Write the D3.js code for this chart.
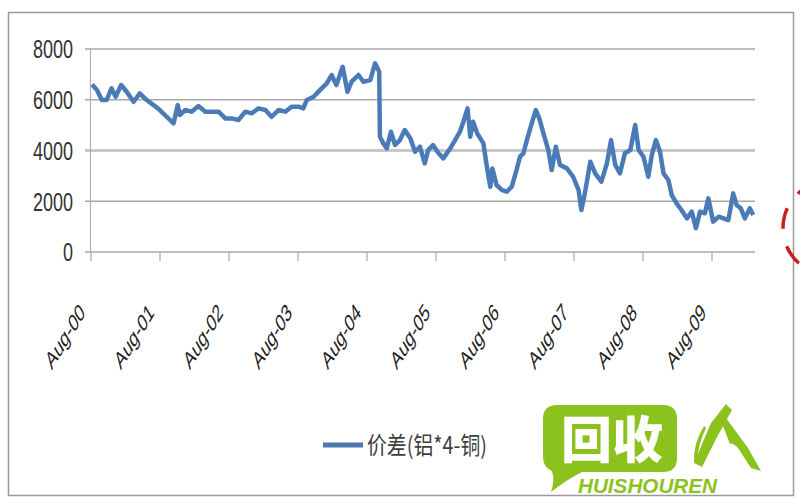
<!DOCTYPE html>
<html>
<head>
<meta charset="utf-8">
<script src="https://cdn.jsdelivr.net/npm/d3@7/dist/d3.min.js"></script>
<style>
  html, body { margin: 0; padding: 0; background: #fff; }
  svg { display: block; }
</style>
</head>
<body>
<svg id="chart" width="800" height="500"></svg>
<script>
// ---- data ----
const seriesName = "价差(铝*4-铜)";
const tickLabels = ["Aug-00","Aug-01","Aug-02","Aug-03","Aug-04","Aug-05","Aug-06","Aug-07","Aug-08","Aug-09"];
const tickYears = [2000.583,2001.583,2002.583,2003.583,2004.583,2005.583,2006.583,2007.583,2008.583,2009.583];
const yTicks = [0, 2000, 4000, 6000, 8000];

const times = [
  2000.60,2000.67,2000.74,2000.81,2000.88,2000.94,2001.02,2001.10,2001.20,2001.29,
  2001.39,2001.49,2001.58,2001.68,2001.78,2001.84,2001.87,2001.95,2002.04,2002.14,
  2002.24,2002.33,2002.43,2002.53,2002.62,2002.72,2002.82,2002.91,2003.01,2003.11,
  2003.20,2003.30,2003.40,2003.49,2003.59,2003.66,2003.71,2003.81,2003.90,2004.00,
  2004.07,2004.14,2004.23,2004.30,2004.36,2004.46,2004.53,2004.63,2004.70,2004.76,
  2004.77,2004.82,2004.87,2004.93,2004.99,2005.06,2005.13,2005.21,2005.28,
  2005.35,2005.42,2005.47,2005.54,2005.62,2005.69,2005.79,2005.86,2005.93,2005.98,
  2006.04,2006.08,2006.12,2006.18,2006.27,2006.32,2006.37,2006.40,2006.46,2006.54,
  2006.61,2006.68,2006.75,2006.80,2006.85,2006.90,2006.97,2007.03,2007.08,2007.14,
  2007.21,2007.26,2007.32,2007.38,2007.48,2007.57,2007.65,2007.69,2007.74,2007.82,
  2007.89,2007.98,2008.06,2008.12,2008.18,2008.25,2008.32,2008.40,2008.47,2008.52,
  2008.59,2008.66,2008.71,2008.77,2008.83,2008.88,2008.95,2009.00,2009.07,2009.14,
  2009.22,2009.29,2009.35,2009.41,2009.48,2009.53,2009.60,2009.68,2009.75,2009.82,
  2009.89,2009.94,2010.00,2010.06,2010.13,2010.18
];
const spread = [
  6600,6380,5990,5990,6450,6120,6580,6315,5920,6250,
  5990,5790,5595,5330,5070,5790,5400,5595,5530,5750,
  5530,5530,5530,5265,5265,5200,5530,5465,5660,5595,
  5330,5595,5530,5725,5725,5660,5990,6120,6380,6645,
  6975,6580,7300,6315,6710,6975,6710,6775,7435,7105,
  4545,4280,4085,4740,4215,4410,4805,4480,3950,
  4150,3495,4020,4215,3890,3690,4085,4410,4740,5135,
  5660,4545,5135,4675,4280,3360,2570,3295,2640,2440,
  2375,2570,3230,3755,3890,4410,5070,5595,5265,4675,
  4020,3230,4150,3430,3295,2965,2440,1655,2310,3560,
  3100,2770,3495,4410,3430,3100,3890,4020,5005,4020,
  3755,2965,3820,4410,3950,3100,2835,2245,1915,1655,
  1325,1590,935,1590,1525,2115,1195,1390,1325,1260,
  2310,1850,1720,1325,1720,1460
];

// ---- drawing ----
const svg = d3.select("#chart");
svg.append("rect").attr("width", 800).attr("height", 500).attr("fill", "#fff");

const x = d3.scaleLinear().domain([tickYears[0], tickYears[tickYears.length - 1]]).range([91, 712]);
const y = d3.scaleLinear().domain([0, 8000]).range([252, 49]);
const plotRight = 755;

// frame
svg.append("rect").attr("x", 8.5).attr("y", 12.5).attr("width", 785).attr("height", 483)
  .attr("fill", "none").attr("stroke", "#9a9a9a").attr("stroke-width", 1.5);

// grid lines
svg.append("g").selectAll("line").data(yTicks).join("line")
  .attr("x1", 85).attr("x2", plotRight)
  .attr("y1", d => y(d)).attr("y2", d => y(d))
  .attr("stroke", d => d === 4000 ? "#c8c8c8" : "#a8a8a8")
  .attr("stroke-width", d => d === 4000 ? 3 : 1.5);

// vertical axis line
svg.append("line").attr("x1", 90.5).attr("x2", 90.5).attr("y1", y(8000)).attr("y2", y(0))
  .attr("stroke", "#b0b0b0").attr("stroke-width", 1.2);

// x ticks
svg.append("g").selectAll("line").data(tickYears).join("line")
  .attr("x1", d => x(d)).attr("x2", d => x(d)).attr("y1", y(0)).attr("y2", y(0) + 9)
  .attr("stroke", "#a8a8a8").attr("stroke-width", 1.2);

// y labels (stretched vertically like the reference)
svg.append("g").selectAll("g").data(yTicks).join("g")
  .attr("transform", d => `translate(73,${y(d)}) scale(1,1.45)`)
  .append("text")
  .attr("text-anchor", "end").attr("dy", "0.36em")
  .attr("font-family", "Liberation Sans, Arial, sans-serif").attr("font-size", 18)
  .attr("fill", "#333")
  .text(d => d);

// x labels (rotated, stretched)
svg.append("g").selectAll("g").data(tickYears).join("g")
  .attr("transform", d => `translate(${x(d) - 5},314) scale(1,1.65) rotate(-45)`)
  .append("text")
  .attr("text-anchor", "end")
  .attr("font-family", "Liberation Sans, Arial, sans-serif").attr("font-size", 15)
  .attr("fill", "#222")
  .text((d, i) => tickLabels[i]);

// series line
const pts = times.map((t, i) => [t, spread[i]]);
svg.append("path").datum(pts)
  .attr("fill", "none").attr("stroke", "#4a7bb7").attr("stroke-width", 4.5)
  .attr("stroke-linejoin", "round")
  .attr("d", d3.line().x(d => x(d[0])).y(d => y(d[1])));

// legend
svg.append("line").attr("x1", 323).attr("x2", 363).attr("y1", 445).attr("y2", 445)
  .attr("stroke", "#4d78ad").attr("stroke-width", 5);
svg.append("g").attr("transform", "translate(367,445) scale(1,1.4)")
  .append("text").attr("dy", "0.36em")
  .attr("font-family", "Noto Sans CJK SC, sans-serif").attr("font-size", 17)
  .attr("fill", "#404040").attr("textLength", 120).attr("lengthAdjust", "spacingAndGlyphs")
  .text(seriesName);

// watermark logo
const green = "#8cc21e";
svg.append("path")
  .attr("d", "M557,405 H663 Q677,405 677,419 V458 Q677,472 663,472 H582 Q566,480 551,492 Q555,480 552,471 Q543,467 543,457 V419 Q543,405 557,405 Z")
  .attr("fill", green);
svg.append("g").attr("transform", "translate(561,458) scale(1,1.15)")
  .append("text")
  .attr("font-family", "Noto Sans CJK SC, sans-serif").attr("font-weight", 900)
  .attr("font-size", 43).attr("fill", "#fff")
  .attr("textLength", 102).attr("lengthAdjust", "spacingAndGlyphs")
  .text("回收");
svg.append("text").attr("x", 578).attr("y", 493)
  .attr("font-family", "Liberation Sans, Arial, sans-serif").attr("font-weight", "bold")
  .attr("font-style", "italic").attr("font-size", 20).attr("fill", green)
  .attr("textLength", 139).attr("lengthAdjust", "spacingAndGlyphs")
  .text("HUISHOUREN");
// stylised 人
svg.append("path")
  .attr("d", "M694,463 L702,467 L717,437 L732,410 L726,404 L711,423 Z")
  .attr("fill", green);
svg.append("path")
  .attr("d", "M694,462 Q693,444 704,426 L706,428 Q698,444 697,462 Z")
  .attr("fill", green);
svg.append("path")
  .attr("d", "M721,421 L726,418 L748,448 L761,471 L751,468 L738,448 Q732,442 730,444 Z")
  .attr("fill", green);

// red dashed circle at the right edge
svg.append("circle").attr("cx", 830).attr("cy", 228).attr("r", 47)
  .attr("fill", "none").attr("stroke", "#c8201e").attr("stroke-width", 3.5)
  .attr("stroke-dasharray", "21 18").attr("stroke-dashoffset", -29.7);
</script>
</body>
</html>
